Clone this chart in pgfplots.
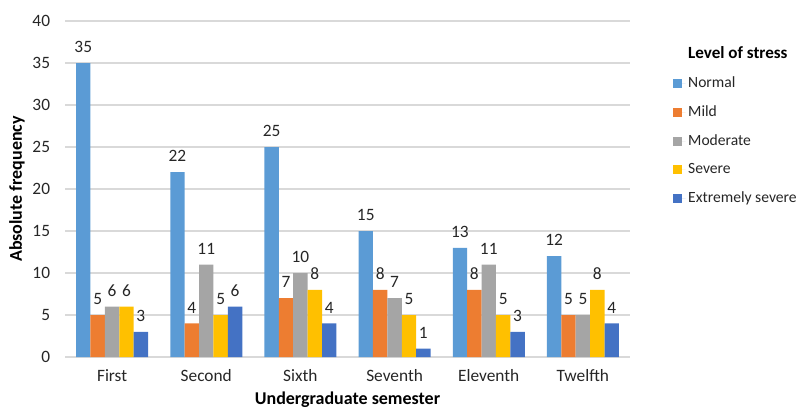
\documentclass[border=0pt]{standalone}
\usepackage{pgfplots}
\usepackage{pgfplotstable}
\pgfplotsset{compat=1.18}
\usepackage{fontspec}
\setmainfont{Carlito}

\definecolor{cNormal}{HTML}{5B9BD5}
\definecolor{cMild}{HTML}{ED7D31}
\definecolor{cModerate}{HTML}{A5A5A5}
\definecolor{cSevere}{HTML}{FFC000}
\definecolor{cExtreme}{HTML}{4472C4}
\definecolor{gridgray}{HTML}{D9D9D9}
\definecolor{txt}{HTML}{262626}

% Absolute frequency of each stress level by semester
\pgfplotstableread{
x normal mild moderate severe extreme
0 35 5 6 6 3
1 22 4 11 5 6
2 25 7 10 8 4
3 15 8 7 5 1
4 13 8 11 5 3
5 12 5 5 8 4
}\stress

\pgfplotsset{
  sq/.style={fill=#1, draw=none,
    legend image code/.code={%
      \path (0pt,0pt) -- (9.2pt,0pt);
      \fill[#1] (0pt,-3.4pt) rectangle (6.8pt,3.4pt);}},
}

\begin{document}
\fontsize{13pt}{15pt}\selectfont
\begin{tikzpicture}
\useasboundingbox (-48.75pt,-39.75pt) rectangle (549.75pt,267.75pt);
\begin{axis}[
  at={(0pt,0pt)}, anchor=south west, scale only axis,
  width=423.75pt, height=252pt,
  ymin=0, ymax=40, ytick={0,5,...,40},
  xmin=-0.5, xmax=5.5, xtick={0,...,5},
  xticklabels={First,Second,Sixth,Seventh,Eleventh,Twelfth},
  ybar=0pt, bar width=10.8pt,
  axis lines=left, axis line style={draw=none},
  major tick length=0pt,
  ymajorgrids, grid style={draw=gridgray, line width=0.8pt},
  /pgf/number format/assume math mode=true,
  tick label style={font=\fontsize{13pt}{15pt}\selectfont, text=txt},
  yticklabel style={inner sep=0pt, xshift=-11pt},
  xticklabel style={inner sep=0pt, yshift=-9pt},
  xlabel={\textbf{Undergraduate semester}},
  ylabel={\textbf{Absolute frequency}},
  every axis x label/.style={at={(axis description cs:0.5,-0.128)}, anchor=center, font=\fontsize{13.5pt}{15pt}\selectfont, text=black},
  every axis y label/.style={at={(axis description cs:-0.085,0.5)}, rotate=90, anchor=center, font=\fontsize{13.5pt}{15pt}\selectfont, text=black},
  nodes near coords,
  every node near coord/.append style={font=\fontsize{13pt}{15pt}\selectfont, text=txt, yshift=3.2pt},
  legend style={at={(1.069,0.94)}, anchor=north west, draw=none, fill=none,
    row sep=7.6pt, font=\fontsize{11.7pt}{14pt}\selectfont, text=txt},
  legend cell align=left,
]
\addlegendimage{empty legend}
\addlegendentry{\fontsize{12.8pt}{15pt}\selectfont\textbf{\color{black}Level of stress}}
\addplot[sq=cNormal] table[x=x, y=normal] {\stress};
\addlegendentry{Normal}
\addplot[sq=cMild] table[x=x, y=mild] {\stress};
\addlegendentry{Mild}
\addplot[sq=cModerate] table[x=x, y=moderate] {\stress};
\addlegendentry{Moderate}
\addplot[sq=cSevere] table[x=x, y=severe] {\stress};
\addlegendentry{Severe}
\addplot[sq=cExtreme] table[x=x, y=extreme] {\stress};
\addlegendentry{Extremely severe}
\end{axis}
\end{tikzpicture}
\end{document}
